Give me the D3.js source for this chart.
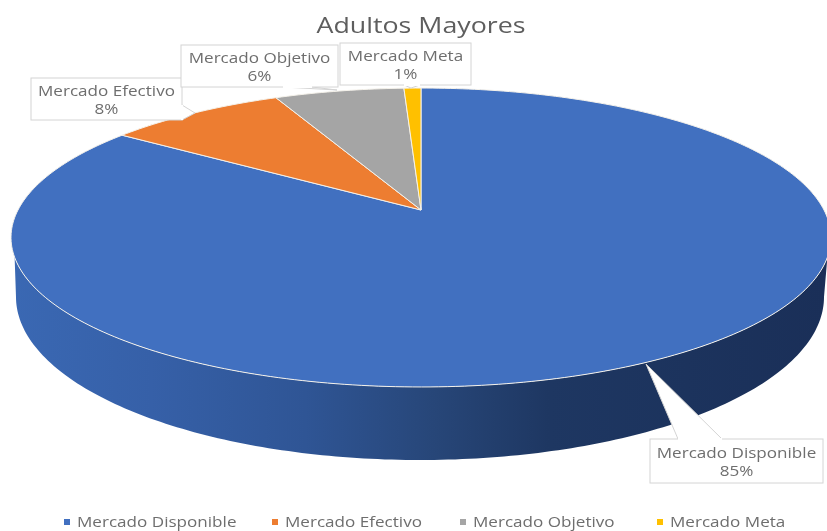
<!DOCTYPE html>
<html><head><meta charset="utf-8">
<script src="https://cdn.jsdelivr.net/npm/d3@7"></script>
<style>html,body{margin:0;background:#fff}svg{display:block;filter:blur(.65px)}text{font-family:"Open Sans",sans-serif}</style>
</head><body><svg id="c" width="827" height="531"></svg>
<script>
const categories=["Mercado Disponible","Mercado Efectivo","Mercado Objetivo","Mercado Meta"];
const values=[84.7,8.4,6.1,0.8];
const colors=["#4170c0","#ed7d31","#a5a5a5","#ffc000"];
const title="Adultos Mayores";

const W=827,H=531,svg=d3.select("#c");
const P={x0:421,y0:210,A:144.4,B:403,k:.184};
const project=a=>{const u=Math.sin(a),v=-Math.cos(a),d=1-P.k*v;return[P.x0+P.B*u/d,P.y0+P.A*v/d]};
const base={cx:420,cy:297,rx:404,ry:163};
const rad=d=>d*Math.PI/180;
const arcPts=(a0,a1)=>{const n=Math.max(2,Math.ceil(Math.abs(a1-a0)/rad(1)));return d3.range(n+1).map(i=>project(a0+(a1-a0)*i/n))};
const line=d3.line();
const stretch=(sel,f)=>sel.each(function(){this.setAttribute("textLength",this.getComputedTextLength()*f);this.setAttribute("lengthAdjust","spacingAndGlyphs")});

const defs=svg.append("defs");
const g=defs.append("linearGradient").attr("id","wall").attr("gradientUnits","userSpaceOnUse")
  .attr("x1",13).attr("x2",825).attr("y1",0).attr("y2",0);
[[0,"#3a68b3"],[.17,"#3660a8"],[.36,"#2f5595"],[.52,"#274678"],[.66,"#1e3762"],[1,"#1a2f58"]]
  .forEach(s=>g.append("stop").attr("offset",s[0]).attr("stop-color",s[1]));

// side wall
const topFront=arcPts(rad(252),rad(108));
const bottom=d3.range(0,181).map(t=>[base.cx+base.rx*Math.cos(rad(t)),base.cy+base.ry*Math.sin(rad(t))]);
svg.append("path").attr("d",line(topFront.concat(bottom))+"Z").attr("fill","url(#wall)");

// top face slices
const pie=d3.pie().sort(null).value(d=>d).startAngle(0).endAngle(2*Math.PI)(values);
svg.selectAll("path.s").data(pie).join("path").attr("class","s")
  .attr("d",d=>line([[P.x0,P.y0],...arcPts(d.startAngle,d.endAngle)])+"Z")
  .attr("fill",(d,i)=>colors[i]).attr("stroke","#f4f1ea").attr("stroke-width",1).attr("stroke-linejoin","round");

// labels with callouts
const boxes=[
 {i:0,x:650,y:439,w:173,h:44,tip:[646,364],b:[[678,439],[722,439]]},
 {i:1,x:31,y:78,w:151,h:42,tip:[195,113],b:[[182,105],[182,120]]},
 {i:2,x:181,y:45,w:157,h:42,tip:[337,90],b:[[283,87],[312,87]]},
 {i:3,x:340,y:43,w:131,h:42,tip:[411,88],b:[[404,85],[420,85]]}];
const F=1.22;
boxes.forEach(b=>{
  svg.append("path").attr("d",line([b.b[0],b.tip,b.b[1]])).attr("fill","#fff").attr("stroke","#d4d4d4");
  svg.append("rect").attr("x",b.x).attr("y",b.y).attr("width",b.w).attr("height",b.h).attr("fill","#fff").attr("stroke","#d4d4d4");
  svg.append("path").attr("d",line(b.b)).attr("stroke","#fff").attr("stroke-width",2);
  [[categories[b.i],-3],[Math.round(values[b.i])+"%",15]].forEach(r=>{
    svg.append("text").attr("class","lab").attr("text-anchor","middle").attr("fill","#6e6e6e").attr("font-size",14)
      .attr("x",b.x+b.w/2).attr("y",b.y+b.h/2+r[1]).text(r[0]);
  });
});
stretch(svg.selectAll("text.lab"),F);

svg.append("text").attr("id","ttl").attr("x",421).attr("y",33).attr("text-anchor","middle").attr("fill","#5e5e5e")
  .attr("font-size",22).attr("textLength",209).attr("lengthAdjust","spacingAndGlyphs").text(title);

// legend
const lx=d3.scaleOrdinal().domain(categories).range([67,275,463,660]);
const lg=svg.selectAll("g.l").data(categories).join("g").attr("class","l").attr("transform",d=>`translate(${lx(d)},522)`);
lg.append("rect").attr("x",-3).attr("y",-3).attr("width",6).attr("height",6).attr("fill",(d,i)=>colors[i]);
const lt=lg.append("text").attr("x",10).attr("y",5).attr("fill","#6e6e6e").attr("font-size",14).text(d=>d);
stretch(lt,F);
</script></body></html>
